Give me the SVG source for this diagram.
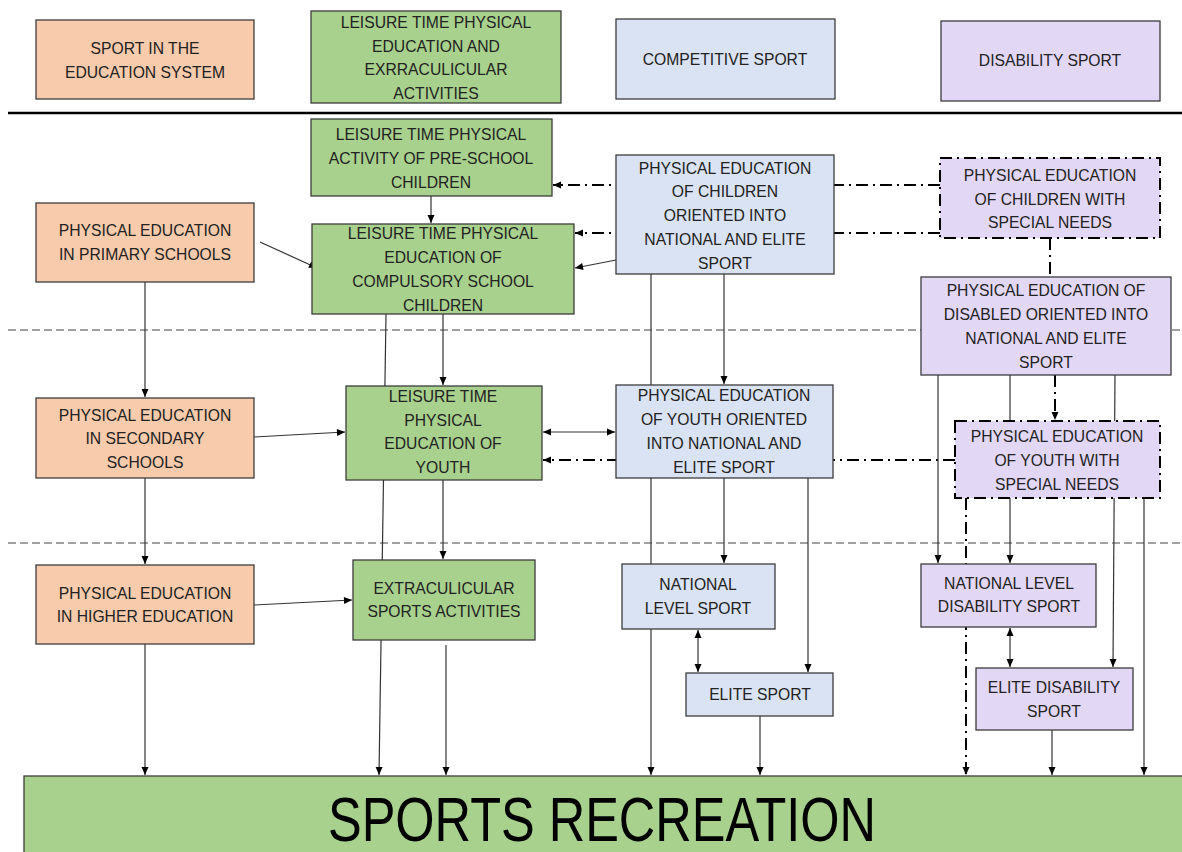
<svg xmlns="http://www.w3.org/2000/svg" width="1182" height="852" viewBox="0 0 1182 852">
<style>
.box{stroke:#3c3c3c;stroke-width:1.3}
.dd{stroke:#000;stroke-width:2;stroke-dasharray:12 5 2 5}
.peach{fill:#f8cbad}.green{fill:#a9d18e}.blue{fill:#dae3f3}.purple{fill:#e2d8f6}
text{font-family:"Liberation Sans",Arial,sans-serif;font-size:15.7px;fill:#222;text-anchor:middle;dominant-baseline:central}
.ln{fill:none;stroke:#333;stroke-width:1.2}
.ld{fill:none;stroke:#000;stroke-width:2;stroke-dasharray:12 5 2 5}
.sep{stroke:#444;stroke-width:1.2;stroke-dasharray:8 4}
</style>
<defs>
<marker id="a" markerWidth="10" markerHeight="10" refX="9" refY="5" orient="auto-start-reverse" markerUnits="userSpaceOnUse">
<path d="M1,1.5 L9,5 L1,8.5 Z" fill="#000"/>
</marker>
</defs>
<rect width="1182" height="852" fill="#fff"/>
<g id="separators">
<line x1="8" y1="113" x2="1182" y2="113" stroke="#000" stroke-width="2.5"/>
<line class="sep" x1="8" y1="330" x2="1182" y2="330"/>
<line class="sep" x1="8" y1="543" x2="1182" y2="543"/>
</g>
<g id="connectors">
<line class="ln" x1="431" y1="196" x2="431" y2="223" marker-end="url(#a)"/>
<line class="ln" x1="260" y1="242" x2="317" y2="268" marker-end="url(#a)"/>
<line class="ln" x1="616" y1="260" x2="575" y2="268" marker-end="url(#a)"/>
<line class="ld" x1="940" y1="185" x2="553" y2="185" marker-end="url(#a)"/>
<line class="ld" x1="940" y1="233" x2="575" y2="233" marker-end="url(#a)"/>
<line class="ln" x1="724" y1="274" x2="724" y2="384" marker-end="url(#a)"/>
<line class="ln" x1="651" y1="274" x2="651" y2="775" marker-end="url(#a)"/>
<line class="ln" x1="386" y1="314" x2="379" y2="775" marker-end="url(#a)"/>
<line class="ln" x1="443" y1="314" x2="443" y2="385" marker-end="url(#a)"/>
<line class="ln" x1="443" y1="480" x2="443" y2="559" marker-end="url(#a)"/>
<line class="ln" x1="446" y1="645" x2="446" y2="775" marker-end="url(#a)"/>
<line class="ln" x1="145" y1="282" x2="145" y2="397" marker-end="url(#a)"/>
<line class="ln" x1="145" y1="478" x2="145" y2="564" marker-end="url(#a)"/>
<line class="ln" x1="145" y1="644" x2="145" y2="775" marker-end="url(#a)"/>
<line class="ln" x1="254" y1="437" x2="345" y2="432" marker-end="url(#a)"/>
<line class="ln" x1="254" y1="605" x2="352" y2="600" marker-end="url(#a)"/>
<line class="ln" x1="543" y1="432" x2="615" y2="432" marker-start="url(#a)" marker-end="url(#a)"/>
<line class="ld" x1="955" y1="460" x2="543" y2="460" marker-end="url(#a)"/>
<line class="ln" x1="724" y1="478" x2="724" y2="563" marker-end="url(#a)"/>
<line class="ln" x1="808" y1="478" x2="808" y2="672" marker-end="url(#a)"/>
<line class="ln" x1="698" y1="630" x2="698" y2="672" marker-start="url(#a)" marker-end="url(#a)"/>
<line class="ln" x1="760" y1="716" x2="760" y2="775" marker-end="url(#a)"/>
<line class="ld" x1="1050" y1="238" x2="1050" y2="277"/>
<line class="ln" x1="938" y1="375" x2="938" y2="563" marker-end="url(#a)"/>
<line class="ln" x1="1010" y1="375" x2="1010" y2="563" marker-end="url(#a)"/>
<line class="ln" x1="1115" y1="375" x2="1113" y2="667" marker-end="url(#a)"/>
<line class="ld" x1="1055" y1="375" x2="1055" y2="420" marker-end="url(#a)"/>
<line class="ln" x1="1144" y1="498" x2="1144" y2="775" marker-end="url(#a)"/>
<line class="ld" x1="966" y1="498" x2="966" y2="775" marker-end="url(#a)"/>
<line class="ln" x1="1010" y1="628" x2="1010" y2="667" marker-start="url(#a)" marker-end="url(#a)"/>
<line class="ln" x1="1052" y1="730" x2="1052" y2="775" marker-end="url(#a)"/>
</g>
<g id="n-edu-header"><rect class="box peach" x="36" y="20" width="218" height="79"/><text x="145" y="48">SPORT IN THE</text><text x="145" y="72">EDUCATION SYSTEM</text></g>
<g id="n-leisure-header"><rect class="box green" x="311" y="11" width="250" height="92"/><text x="436" y="22">LEISURE TIME PHYSICAL</text><text x="436" y="46">EDUCATION AND</text><text x="436" y="69">EXRRACULICULAR</text><text x="436" y="93">ACTIVITIES</text></g>
<g id="n-competitive-header"><rect class="box blue" x="616" y="19" width="219" height="80"/><text x="725" y="59">COMPETITIVE SPORT</text></g>
<g id="n-disability-header"><rect class="box purple" x="941" y="21" width="219" height="80"/><text x="1050" y="60">DISABILITY SPORT</text></g>
<g id="n-preschool"><rect class="box green" x="311" y="119" width="241" height="77"/><text x="431" y="134">LEISURE TIME PHYSICAL</text><text x="431" y="158">ACTIVITY OF PRE-SCHOOL</text><text x="431" y="182">CHILDREN</text></g>
<g id="n-compulsory"><rect class="box green" x="312" y="224" width="262" height="90"/><text x="443" y="233">LEISURE TIME PHYSICAL</text><text x="443" y="257">EDUCATION OF</text><text x="443" y="281">COMPULSORY SCHOOL</text><text x="443" y="305">CHILDREN</text></g>
<g id="n-children-oriented"><rect class="box blue" x="616" y="155" width="218" height="119"/><text x="725" y="168">PHYSICAL EDUCATION</text><text x="725" y="191">OF CHILDREN</text><text x="725" y="215">ORIENTED INTO</text><text x="725" y="239">NATIONAL AND ELITE</text><text x="725" y="263">SPORT</text></g>
<g id="n-children-special"><rect class="purple dd" x="940" y="158" width="220" height="80"/><text x="1050" y="175">PHYSICAL EDUCATION</text><text x="1050" y="199">OF CHILDREN WITH</text><text x="1050" y="222">SPECIAL NEEDS</text></g>
<g id="n-primary"><rect class="box peach" x="36" y="203" width="218" height="79"/><text x="145" y="230">PHYSICAL EDUCATION</text><text x="145" y="254">IN PRIMARY SCHOOLS</text></g>
<g id="n-disabled-oriented"><rect class="box purple" x="921" y="277" width="250" height="98"/><text x="1046" y="290">PHYSICAL EDUCATION OF</text><text x="1046" y="314">DISABLED ORIENTED INTO</text><text x="1046" y="338">NATIONAL AND ELITE</text><text x="1046" y="362">SPORT</text></g>
<g id="n-secondary"><rect class="box peach" x="36" y="398" width="218" height="80"/><text x="145" y="415">PHYSICAL EDUCATION</text><text x="145" y="438">IN SECONDARY</text><text x="145" y="462">SCHOOLS</text></g>
<g id="n-leisure-youth"><rect class="box green" x="346" y="386" width="196" height="94"/><text x="443" y="396">LEISURE TIME</text><text x="443" y="420">PHYSICAL</text><text x="443" y="443">EDUCATION OF</text><text x="443" y="467">YOUTH</text></g>
<g id="n-youth-oriented"><rect class="box blue" x="616" y="385" width="217" height="93"/><text x="724" y="395">PHYSICAL EDUCATION</text><text x="724" y="419">OF YOUTH ORIENTED</text><text x="724" y="443">INTO NATIONAL AND</text><text x="724" y="467">ELITE SPORT</text></g>
<g id="n-youth-special"><rect class="purple dd" x="955" y="421" width="205" height="77"/><text x="1057" y="436">PHYSICAL EDUCATION</text><text x="1057" y="460">OF YOUTH WITH</text><text x="1057" y="484">SPECIAL NEEDS</text></g>
<g id="n-higher"><rect class="box peach" x="36" y="565" width="218" height="79"/><text x="145" y="593">PHYSICAL EDUCATION</text><text x="145" y="616">IN HIGHER EDUCATION</text></g>
<g id="n-extracurricular"><rect class="box green" x="353" y="560" width="182" height="80"/><text x="444" y="588">EXTRACULICULAR</text><text x="444" y="611">SPORTS ACTIVITIES</text></g>
<g id="n-national"><rect class="box blue" x="622" y="564" width="153" height="65"/><text x="698" y="584">NATIONAL</text><text x="698" y="608">LEVEL SPORT</text></g>
<g id="n-elite"><rect class="box blue" x="686" y="673" width="147" height="43"/><text x="760" y="694">ELITE SPORT</text></g>
<g id="n-national-disability"><rect class="box purple" x="921" y="564" width="175" height="63"/><text x="1009" y="583">NATIONAL LEVEL</text><text x="1009" y="606">DISABILITY SPORT</text></g>
<g id="n-elite-disability"><rect class="box purple" x="976" y="668" width="157" height="62"/><text x="1054" y="687">ELITE DISABILITY</text><text x="1054" y="711">SPORT</text></g>
<g id="n-recreation"><rect class="green" x="24" y="776" width="1160" height="80" stroke="#3c3c3c" stroke-width="1.3"/><text transform="translate(602,841) scale(1,1.25)" x="0" y="0" style="font-size:50.5px;fill:#000;dominant-baseline:alphabetic">SPORTS RECREATION</text></g>
</svg>
